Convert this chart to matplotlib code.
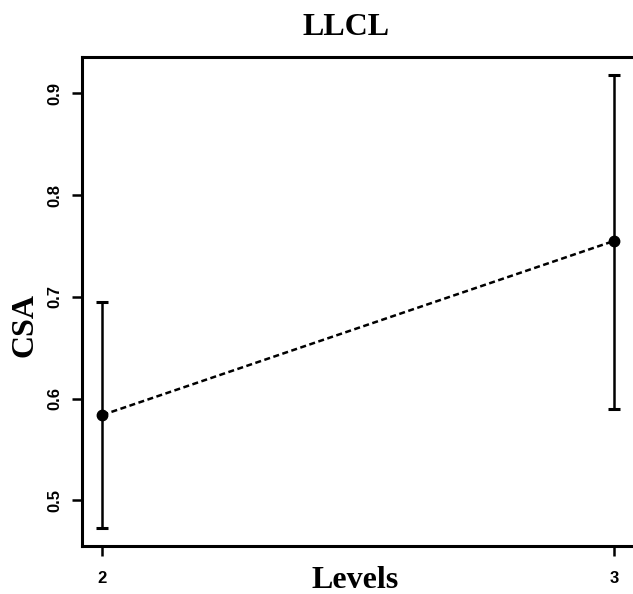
import matplotlib
matplotlib.use("Agg")
import matplotlib.pyplot as plt

levels = [2, 3]
csa_mean = [0.584, 0.755]
csa_lower = [0.473, 0.590]
csa_upper = [0.695, 0.918]
yticks = [0.5, 0.6, 0.7, 0.8, 0.9]

W, H = 633, 594
fig = plt.figure(figsize=(W / 100, H / 100), dpi=100)
ax = fig.add_axes([82 / W, 48 / H, (634.4 - 82) / W, (546 - 57) / H])

yerr = [[m - l for m, l in zip(csa_mean, csa_lower)],
        [u - m for m, u in zip(csa_mean, csa_upper)]]
ax.errorbar(levels, csa_mean, yerr=yerr, fmt='none', ecolor='black',
            elinewidth=1.8, capsize=4, capthick=2.2)
ax.plot(levels, csa_mean, color='black', lw=1.8, linestyle=(0, (2.4, 1.4)),
        marker='o', markersize=7.5, markerfacecolor='black', markeredgecolor='black')

ax.set_xlim(1.96, 3.04)
ax.set_ylim(0.4552, 0.9358)
ax.set_xticks(levels)
ax.set_xticklabels([str(v) for v in levels])
ax.set_yticks(yticks)
ax.set_yticklabels([f"{v:.1f}" for v in yticks], rotation=90, va='center')

for s in ax.spines.values():
    s.set_linewidth(2.2)
ax.tick_params(axis='both', length=7.2, width=1.8, direction='out')
ax.tick_params(axis='x', pad=11)
ax.tick_params(axis='y', pad=7)
for lab in ax.get_xticklabels() + ax.get_yticklabels():
    lab.set_fontfamily('Liberation Sans')
    lab.set_fontweight('bold')
    lab.set_fontsize(12)

serif = dict(fontfamily='Liberation Serif', fontweight='bold', fontsize=23)
fig.text(346 / W, 1 - 35 / H, "LLCL", ha='center', va='baseline', **serif)
fig.text(355 / W, 1 - 588 / H, "Levels", ha='center', va='baseline', **serif)
fig.text(33 / W, 1 - 325 / H, "CSA", ha='center', va='baseline', rotation=90,
         rotation_mode='anchor', **serif)

fig.savefig("out.png", dpi=100)
